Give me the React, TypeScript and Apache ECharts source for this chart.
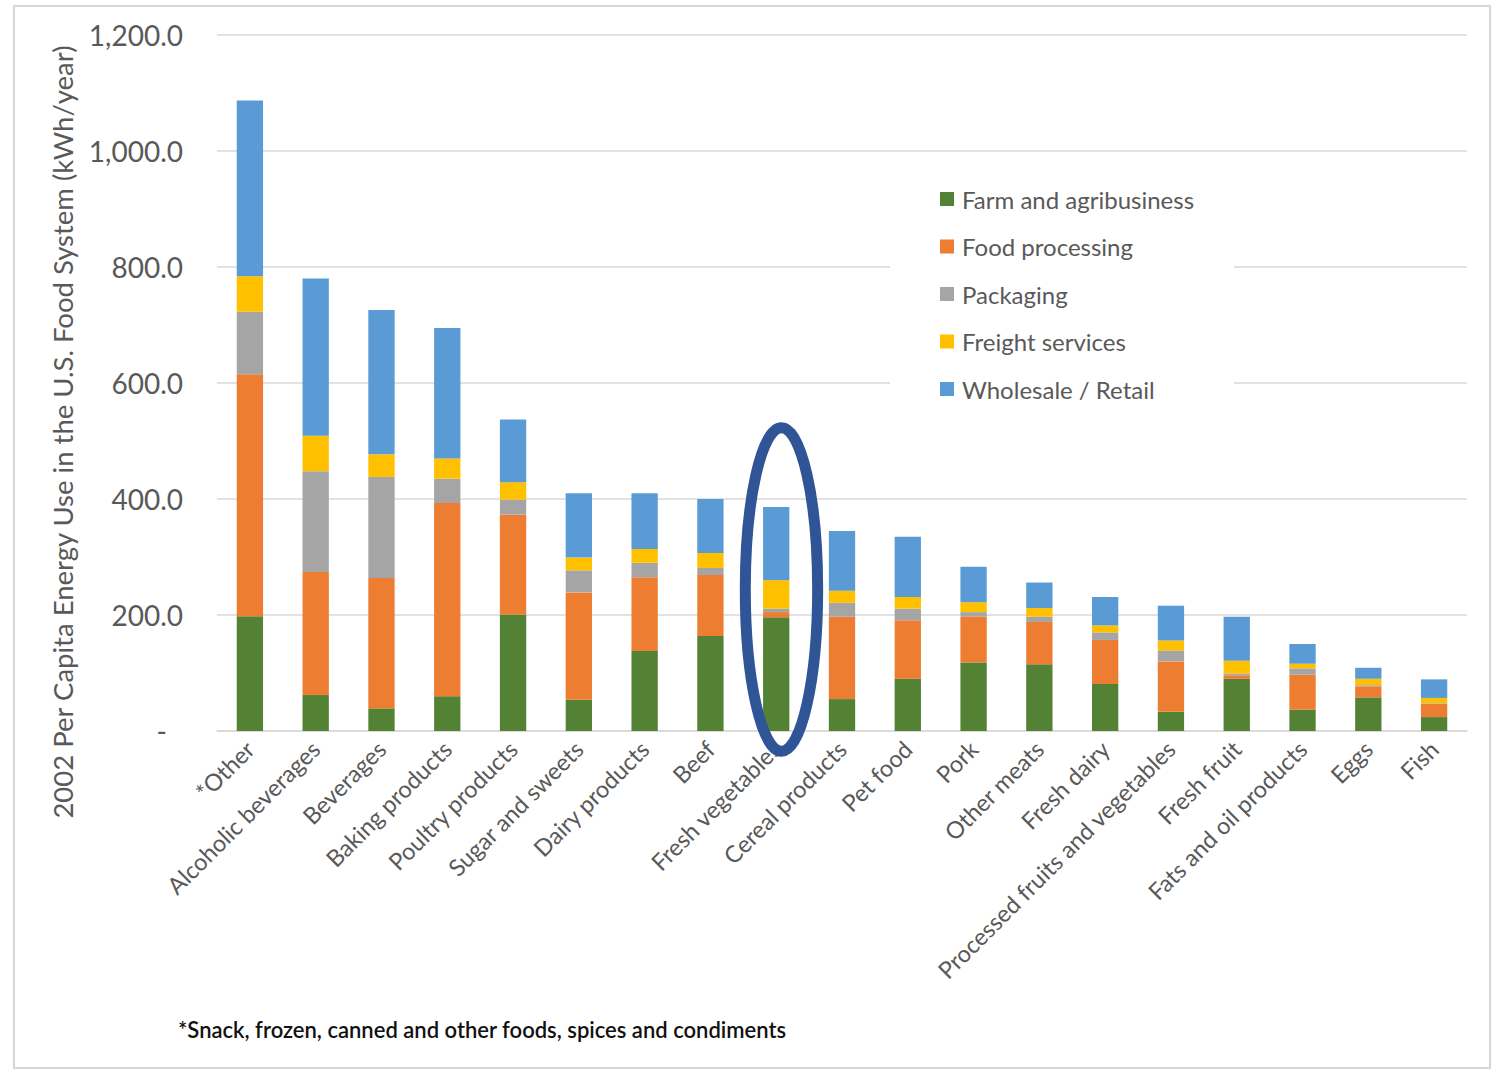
import React, { useEffect, useRef } from "react";
import * as echarts from "echarts";

const categories = [
  "*Other",
  "Alcoholic beverages",
  "Beverages",
  "Baking products",
  "Poultry products",
  "Sugar and sweets",
  "Dairy products",
  "Beef",
  "Fresh vegetables",
  "Cereal products",
  "Pet food",
  "Pork",
  "Other meats",
  "Fresh dairy",
  "Processed fruits and vegetables",
  "Fresh fruit",
  "Fats and oil products",
  "Eggs",
  "Fish",
];

const farm = [198, 62, 39, 60, 201, 54, 138, 164, 196, 55, 90, 118, 115, 81, 33, 90, 37, 58, 24];
const processing = [417, 212, 225, 333, 172, 185, 127, 105, 9, 142, 101, 79, 73, 76, 87, 6, 60, 19, 23];
const packaging = [108, 174, 174, 42, 26, 38, 25, 12, 6, 24, 20, 8, 9, 13, 19, 3, 11, 2, 1];
const freight = [61, 61, 39, 35, 30, 22, 24, 26, 49, 21, 20, 17, 15, 12, 17, 22, 8, 11, 9];
const wholesale = [303, 271, 249, 225, 108, 111, 96, 93, 126, 103, 104, 61, 44, 49, 60, 76, 34, 19, 32];

const seriesNames = [
  "Farm and agribusiness",
  "Food processing",
  "Packaging",
  "Freight services",
  "Wholesale / Retail",
];
const seriesColors = ["#548235", "#ED7D31", "#A5A5A5", "#FFC000", "#5B9BD5"];

const yMin = 0;
const yMax = 1200;
const yInterval = 200;

const yAxisTitle = "2002 Per Capita Energy Use in the U.S. Food System (kWh/year)";
const footnote = "*Snack, frozen, canned and other foods, spices and condiments";

// highlighted category and the value span of the annotation ellipse
const highlightCategory = "Fresh vegetables";
const highlightTop = 523;
const highlightBottom = -35;

const FONT = "Lato";
const TEXT_GRAY = "#595959";

export default function App() {
  const ref = useRef<HTMLDivElement>(null);

  useEffect(() => {
    if (!ref.current) return;
    const chart = echarts.init(ref.current, undefined, { renderer: "svg" });
    const data = [farm, processing, packaging, freight, wholesale];

    chart.setOption({
      animation: false,
      backgroundColor: "#ffffff",
      textStyle: { fontFamily: FONT },
      grid: { left: 217, right: 27, top: 35, bottom: 341, containLabel: false },
      legend: {
        orient: "vertical",
        left: 890,
        top: 169,
        data: seriesNames,
        icon: "rect",
        itemWidth: 14,
        itemHeight: 14,
        itemGap: 23.5,
        backgroundColor: "#ffffff",
        padding: [18, 40, 18, 50],
        textStyle: {
          fontFamily: FONT,
          fontSize: 24,
          color: TEXT_GRAY,
          lineHeight: 24,
          padding: [0, 0, 0, 3],
        },
      },
      xAxis: {
        type: "category",
        data: categories,
        axisLine: { show: true, lineStyle: { color: "#d9d9d9", width: 1.5 } },
        axisTick: { show: false },
        axisLabel: {
          rotate: 45,
          interval: 0,
          margin: 14,
          fontFamily: FONT,
          fontSize: 23.5,
          color: TEXT_GRAY,
        },
      },
      yAxis: {
        type: "value",
        min: yMin,
        max: yMax,
        interval: yInterval,
        axisLine: { show: false },
        axisTick: { show: false },
        splitLine: { lineStyle: { color: "#d9d9d9", width: 1.5 } },
        axisLabel: {
          margin: 34,
          fontFamily: FONT,
          fontSize: 28,
          color: TEXT_GRAY,
          formatter: (v: number) =>
            v === 0
              ? "{d|-}"
              : v.toLocaleString("en-US", { minimumFractionDigits: 1, maximumFractionDigits: 1 }),
          rich: {
            d: { fontFamily: FONT, fontSize: 28, color: TEXT_GRAY, padding: [0, 16, 0, 0] },
          },
        },
      },
      series: seriesNames.map((name, i) => ({
        name,
        type: "bar",
        stack: "total",
        barWidth: "40%",
        data: data[i],
        itemStyle: { color: seriesColors[i] },
      })),
    });

    const idx = categories.indexOf(highlightCategory);
    const pTop = chart.convertToPixel({ xAxisIndex: 0, yAxisIndex: 0 }, [idx, highlightTop]) as number[];
    const pBot = chart.convertToPixel({ xAxisIndex: 0, yAxisIndex: 0 }, [idx, highlightBottom]) as number[];
    const pNext = chart.convertToPixel({ xAxisIndex: 0, yAxisIndex: 0 }, [idx + 1, highlightTop]) as number[];
    const band = pNext[0] - pTop[0];

    chart.setOption({
      graphic: [
        {
          type: "rect",
          shape: { x: 14, y: 6, width: 1476, height: 1062 },
          style: { fill: "none", stroke: "#d6d6d6", lineWidth: 2 },
          z: 0,
          silent: true,
        },
        {
          type: "text",
          x: 62,
          y: 432,
          rotation: Math.PI / 2,
          style: {
            text: yAxisTitle,
            fontFamily: FONT,
            fontSize: 27.5,
            fill: TEXT_GRAY,
            align: "center",
            verticalAlign: "middle",
          },
        },
        {
          type: "text",
          x: 178,
          y: 1029,
          style: {
            text: footnote,
            fontFamily: FONT,
            fontSize: 22,
            fontWeight: 600,
            fill: "#111111",
            align: "left",
            verticalAlign: "middle",
          },
        },
        {
          type: "ellipse",
          shape: {
            cx: pTop[0] + band * 0.08,
            cy: (pTop[1] + pBot[1]) / 2,
            rx: band * 0.55,
            ry: (pBot[1] - pTop[1]) / 2,
          },
          style: { fill: "none", stroke: "#2F5597", lineWidth: 11 },
          z: 100,
          silent: true,
        },
      ],
    });

    return () => chart.dispose();
  }, []);

  return (
    <div
      ref={ref}
      style={{ position: "fixed", left: 0, top: 0, width: 1494, height: 1072 }}
    />
  );
}
